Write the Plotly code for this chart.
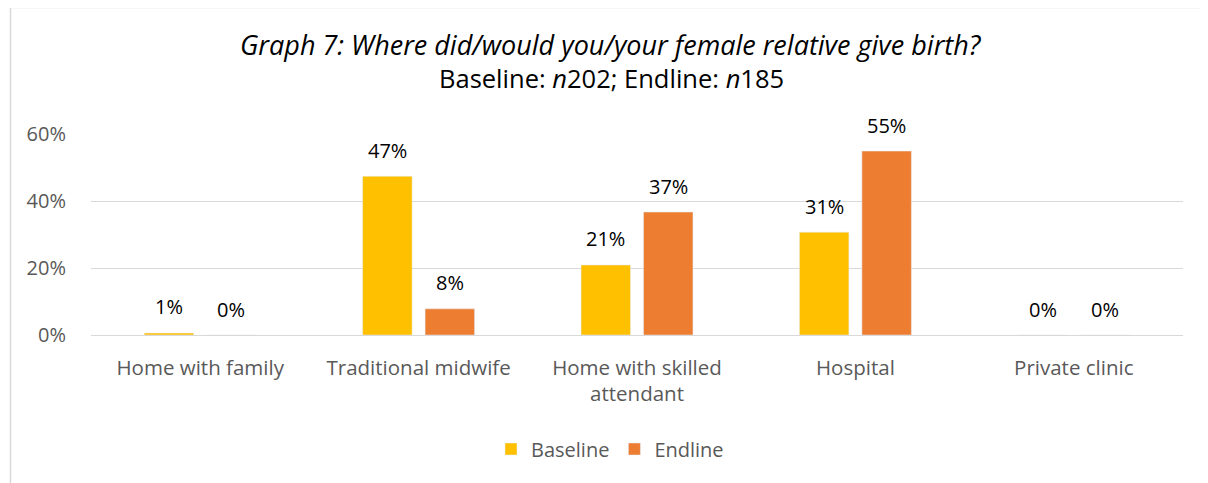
import plotly.graph_objects as go

categories = ["Home with family", "Traditional midwife", "Home with skilled<br>attendant", "Hospital", "Private clinic"]
baseline = [0.6, 47.4, 20.9, 30.7, 0.0]
endline = [0.0, 7.8, 36.7, 54.9, 0.0]
baseline_labels = ["1%", "47%", "21%", "31%", "0%"]
endline_labels = ["0%", "8%", "37%", "55%", "0%"]
tick_vals = [0, 20, 40, 60]
tick_text = ["0%", "20%", "40%", "60%"]

FONT = "Open Sans"
# page body has an 8px margin, so figure is 8px smaller and positions are relative
W, H = 1200, 475
PL, PR, PT, PB = 91 - 8, 1183 - 8, 134 - 8, 335 - 8   # plot area in figure px
PW, PH = PR - PL, PB - PT


def px_x(x):  # page px -> paper
    return (x - 8 - PL) / PW


def px_y(y):
    return (PB - (y - 8)) / PH


fig = go.Figure()
fig.add_trace(go.Bar(name="Baseline", x=categories, y=baseline, marker_color="#FFC000",
                     hoverinfo="skip"))
fig.add_trace(go.Bar(name="Endline", x=categories, y=endline, marker_color="#ED7D31",
                     hoverinfo="skip"))

annotations = []
for cat, v, t in zip(categories, baseline, baseline_labels):
    annotations.append(dict(x=cat, y=v, xref="x", yref="y", text=t, showarrow=False,
                            xshift=-31.25, yshift=26, yanchor="middle",
                            font=dict(family=FONT, size=20, color="#000000")))
for cat, v, t in zip(categories, endline, endline_labels):
    annotations.append(dict(x=cat, y=v, xref="x", yref="y", text=t, showarrow=False,
                            xshift=31.25, yshift=26, yanchor="middle",
                            font=dict(family=FONT, size=20, color="#000000")))

annotations.append(dict(x=px_x(611), xref="paper", y=px_y(45), yref="paper",
                        text="<i>Graph 7: Where did/would you/your female relative give birth?</i>",
                        showarrow=False, yanchor="middle", xanchor="center",
                        font=dict(family=FONT, size=27, color="#000000")))
annotations.append(dict(x=px_x(611), xref="paper", y=px_y(78), yref="paper",
                        text="Baseline: <i>n</i>202; Endline: <i>n</i>185",
                        showarrow=False, yanchor="middle", xanchor="center",
                        font=dict(family=FONT, size=25.5, color="#000000")))

fig.update_layout(
    width=W, height=H,
    margin=dict(l=PL, r=W - PR, t=PT, b=H - PB, autoexpand=False),
    paper_bgcolor="white", plot_bgcolor="white",
    barmode="group", bargap=0.428, bargroupgap=0.208,
    showlegend=True,
    legend=dict(orientation="h", x=px_x(610), xanchor="center", y=px_y(449), yanchor="middle",
                font=dict(family=FONT, size=20, color="#595959"),
                itemwidth=30, traceorder="normal"),
    font=dict(family=FONT, color="#595959"),
    annotations=annotations,
)

fig.update_yaxes(range=[0, 60], tickvals=tick_vals, ticktext=tick_text,
                 showgrid=True, gridcolor="#D9D9D9", gridwidth=1,
                 zeroline=False, showline=False, ticks="",
                 ticklabelstandoff=24,
                 tickfont=dict(family=FONT, size=20, color="#595959"))
fig.update_xaxes(showline=True, linecolor="#D9D9D9", linewidth=1, ticks="",
                 ticklabelstandoff=14,
                 tickfont=dict(family=FONT, size=20.5, color="#595959"))

fig.add_shape(type="rect", xref="paper", yref="paper",
              x0=px_x(10.5), x1=px_x(1240),
              y0=px_y(540), y1=px_y(7.5),
              line=dict(color="#D9D9D9", width=1.5), fillcolor="rgba(0,0,0,0)", layer="below")

fig.write_html("out.html")
